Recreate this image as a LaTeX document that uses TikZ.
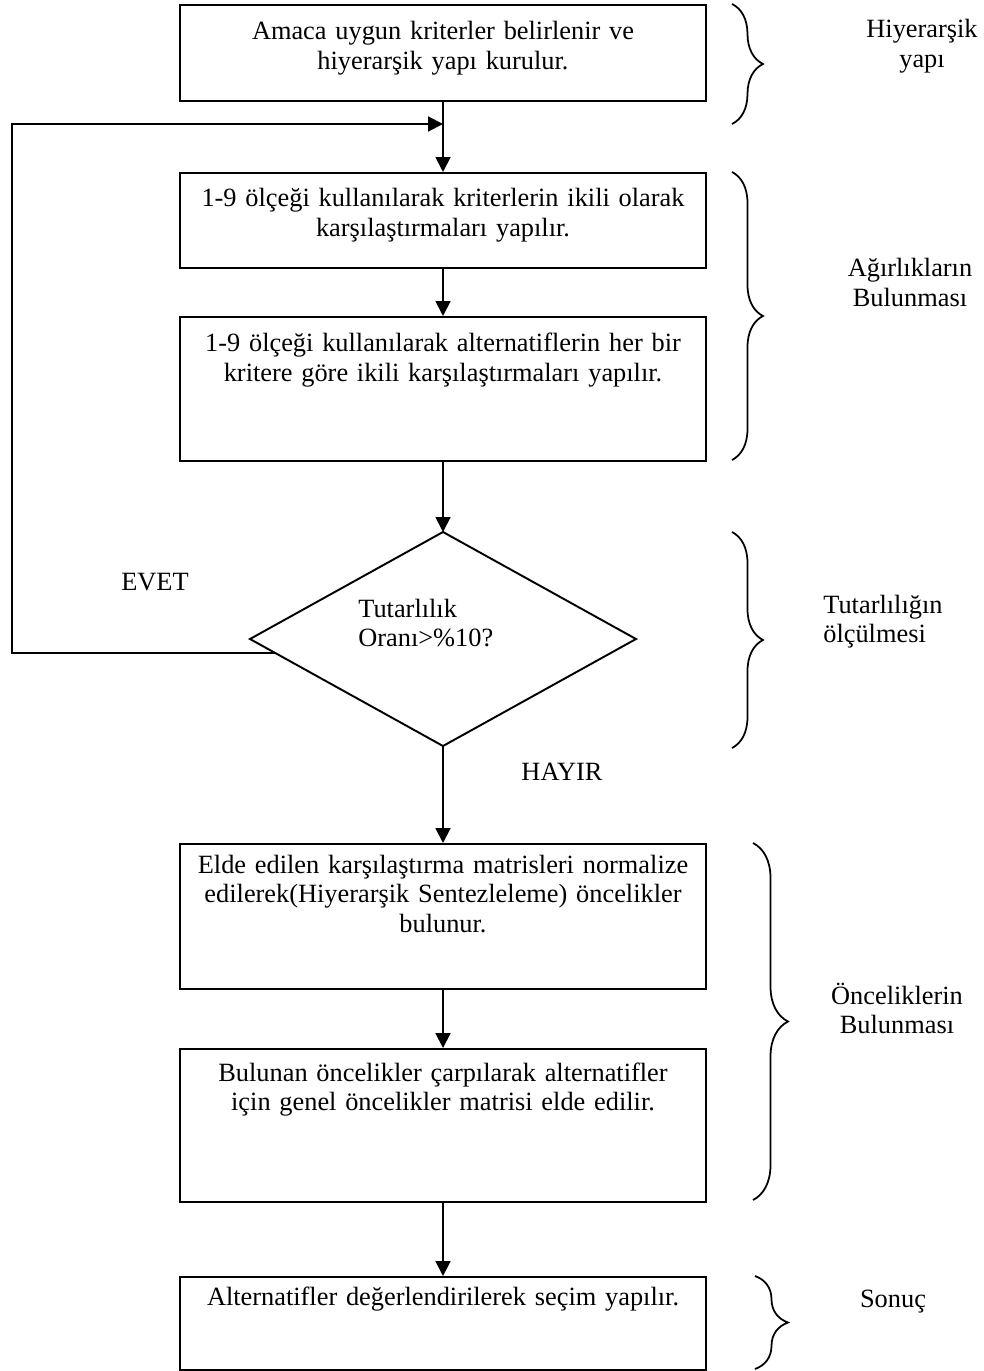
\documentclass[tikz,border=0pt]{standalone}
\usepackage{fontspec}
\setmainfont{Liberation Serif}
\usetikzlibrary{calc,arrows.meta,decorations.pathreplacing}

\begin{document}
\begin{tikzpicture}[x=0.02cm, y=-0.02cm,
	stepbox/.style={draw, line width=1.1pt, minimum width=10.54cm, anchor=north, inner sep=0pt},
	steptext/.style={anchor=base, text width=10.4cm, align=center, inner sep=0pt, font=\fontsize{15}{17}\selectfont},
	sidetext/.style={anchor=base, text width=3.2cm, align=center, inner sep=0pt, font=\fontsize{15}{17}\selectfont},
	lefttext/.style={anchor=base west, text width=3.2cm, align=left, inner sep=0pt, font=\fontsize{15}{17}\selectfont},
	flow/.style={line width=1.1pt, -{Triangle[length=8.5pt,width=8.5pt]}},
	phase/.style={decorate, decoration={brace, amplitude=#1}, line width=1pt}]

	\useasboundingbox (0,0) rectangle (983,1371);

	\node[stepbox, minimum height=1.92cm] (b1) at (443,4) {};
	\node[stepbox, minimum height=1.9cm]  (b2) at (443,172) {};
	\node[stepbox, minimum height=2.88cm] (b3) at (443,316) {};
	\node[stepbox, minimum height=2.9cm]  (b4) at (443,843) {};
	\node[stepbox, minimum height=3.06cm] (b5) at (443,1048) {};
	\node[stepbox, minimum height=1.86cm] (b6) at (443,1276) {};

	\coordinate (dT) at (443,532);
	\coordinate (dR) at (636,639);
	\coordinate (dB) at (443,746);
	\coordinate (dL) at (250,639);
	\draw[line width=1.1pt] (dT) -- (dR) -- (dB) -- (dL) -- cycle;

	\node[steptext] (t1) at (443,40) {Amaca uygun kriterler belirlenir ve\\hiyerarşik yapı kurulur.};
	\node[steptext] (t2) at (443,207) {1-9 ölçeği kullanılarak kriterlerin ikili olarak\\karşılaştırmaları yapılır.};
	\node[steptext] (t3) at (443,352) {1-9 ölçeği kullanılarak alternatiflerin her bir\\kritere göre ikili karşılaştırmaları yapılır.};
	\node[steptext] (t4) at (443,873) {Elde edilen karşılaştırma matrisleri normalize\\edilerek(Hiyerarşik Sentezleleme) öncelikler\\bulunur.};
	\node[steptext] (t5) at (443,1081) {Bulunan öncelikler çarpılarak alternatifler\\için genel öncelikler matrisi elde edilir.};
	\node[steptext] (t6) at (443,1305) {Alternatifler değerlendirilerek seçim yapılır.};
	\node[lefttext] (dq) at (358,617) {Tutarlılık\\Oranı>\%10?};

	\node[sidetext] (evet)  at (155,590) {EVET};
	\node[sidetext] (hayir) at (562,780) {HAYIR};

	\draw[flow] (b1.south) -- (b2.north);
	\draw[flow] (b2.south) -- (b3.north);
	\draw[flow] (b3.south) -- (dT);
	\draw[flow] (dB) -- (b4.north);
	\draw[flow] (b4.south) -- (b5.north);
	\draw[flow] (b5.south) -- (b6.north);

	\coordinate (fb) at ($(dL)!0.13!(dB)$);
	\coordinate (back) at (443,124);
	\draw[flow] (fb) -- ++(-263,0) |- (back);

	\draw[phase=0.62cm] (732,4) -- (732,124);
	\draw[phase=0.62cm] (732,172) -- (732,460);
	\draw[phase=0.62cm] (732,532) -- (732,748);
	\draw[phase=0.7cm]  (753,843) -- (753,1200);
	\draw[phase=0.66cm] (755,1276) -- (755,1369);

	\node[sidetext] (p1) at (922,38)   {Hiyerarşik\\yapı};
	\node[sidetext] (p2) at (910,277)  {Ağırlıkların\\Bulunması};
	\node[lefttext] (p3) at (823,613)  {Tutarlılığın\\ölçülmesi};
	\node[sidetext] (p4) at (897,1004) {Önceliklerin\\Bulunması};
	\node[sidetext] (p5) at (893,1307) {Sonuç};

\end{tikzpicture}
\end{document}
